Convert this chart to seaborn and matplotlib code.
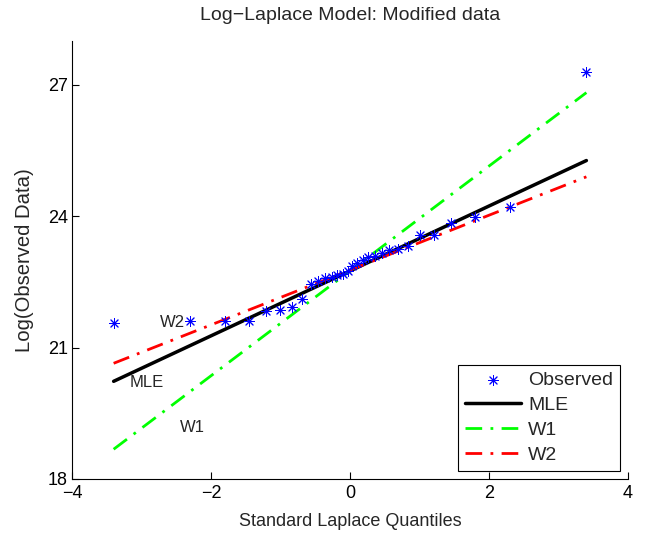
import numpy as np
import pandas as pd
import matplotlib
matplotlib.use("Agg")
import matplotlib.pyplot as plt
import seaborn as sns

# Standard Laplace quantiles (plotting positions) and log of the observed data
quantiles = [-3.401, -2.303, -1.792, -1.455, -1.204, -1.003, -0.836, -0.693,
             -0.568, -0.457, -0.357, -0.266, -0.182, -0.105, -0.034,
             0.034, 0.105, 0.182, 0.266, 0.357, 0.457, 0.568, 0.693,
             0.836, 1.003, 1.204, 1.455, 1.792, 2.303, 3.401]
log_observed = [21.55, 21.60, 21.60, 21.60, 21.83, 21.85, 21.92, 22.12,
                22.46, 22.53, 22.58, 22.61, 22.65, 22.69, 22.75,
                22.87, 22.94, 23.01, 23.06, 23.10, 23.15, 23.22, 23.25,
                23.33, 23.56, 23.56, 23.85, 23.99, 24.22, 27.29]

# Fitted lines: location (intercept) and scale (slope) for each estimator
fit_names = ["MLE", "W1", "W2"]
fit_location = [22.75, 22.75, 22.77]
fit_scale = [0.741, 1.197, 0.626]
fit_colors = ["black", "#00ff00", "red"]
fit_dashes = [None, (6, 3, 1, 3), (6, 3, 1, 3)]
fit_widths = [2.5, 2.0, 2.0]

x_ticks = [-4, -2, 0, 2, 4]
y_ticks = [18, 21, 24, 27]

sns.set_theme(style="white")
plt.rcParams["font.family"] = ["Liberation Sans", "DejaVu Sans"]
plt.rcParams["font.size"] = 13

fig = plt.figure(figsize=(6.51, 5.35), dpi=100)
ax = fig.add_axes([0.1106, 0.1047, 0.8541, 0.8187])

obs = pd.DataFrame({"q": quantiles, "y": log_observed})
sns.scatterplot(data=obs, x="q", y="y", ax=ax, marker=(8, 2, 0), s=52,
                color="blue", edgecolor="blue", linewidth=0.7,
                label="Observed", zorder=5)

x_end = np.array([min(quantiles), max(quantiles)])
for name, loc, sc, col, dsh, lw in zip(fit_names, fit_location, fit_scale,
                                       fit_colors, fit_dashes, fit_widths):
    line = pd.DataFrame({"q": x_end, "y": loc + sc * x_end})
    sns.lineplot(data=line, x="q", y="y", ax=ax, color=col, linewidth=lw,
                 label=name, zorder=3)
    if dsh is not None:
        ax.get_lines()[-1].set_dashes(dsh)

# Inline curve labels
ax.text(-2.56, 21.58, "W2", fontsize=12, ha="center", va="center")
ax.text(-2.92, 20.21, "MLE", fontsize=12, ha="center", va="center")
ax.text(-2.27, 19.18, "W1", fontsize=12, ha="center", va="center")

ax.set_xlim(-4, 4)
ax.set_ylim(18, 28)
ax.set_xticks(x_ticks)
ax.set_yticks(y_ticks)
ax.set_xticklabels(["\u22124", "\u22122", "0", "2", "4"])
ax.tick_params(direction="in", length=5, width=0.8, colors="black",
               labelsize=13, bottom=True, left=True)
ax.tick_params(axis="x", pad=4)
ax.tick_params(axis="y", pad=3)
for side in ["top", "right"]:
    ax.spines[side].set_visible(False)
for side in ["left", "bottom"]:
    ax.spines[side].set_color("black")
    ax.spines[side].set_linewidth(0.8)

ax.set_title("Log\u2212Laplace Model: Modified data", fontsize=14, pad=15)
ax.set_xlabel("Standard Laplace Quantiles", fontsize=13, labelpad=8)
ax.set_ylabel("Log(Observed Data)", fontsize=14.6, labelpad=10)

leg = ax.legend(loc="lower right", fontsize=14, frameon=True, fancybox=False,
                edgecolor="black", framealpha=1, borderpad=0.35,
                handlelength=2.9, handletextpad=0.35, labelspacing=0.38,
                borderaxespad=0.42)
leg.get_frame().set_linewidth(0.8)

fig.savefig("out.png", dpi=100, facecolor="white")
